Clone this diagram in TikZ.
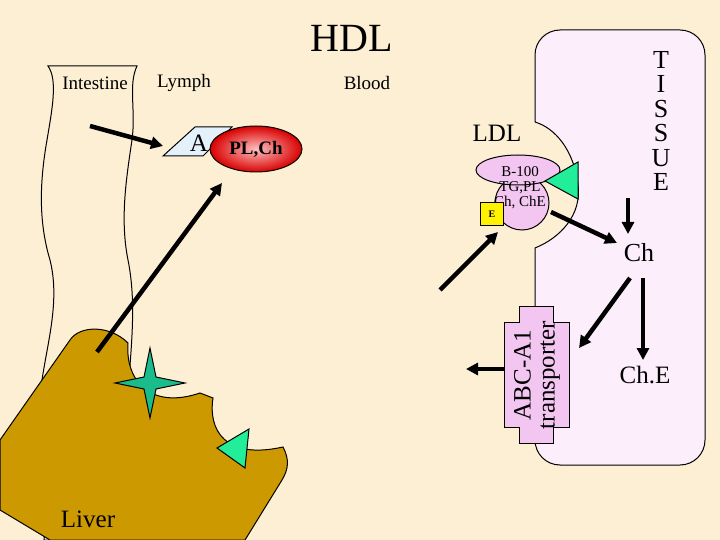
\documentclass[tikz,border=0pt]{standalone}
\usepackage{fontspec}
\setmainfont{Liberation Serif}
\usetikzlibrary{arrows.meta,shapes.geometric}
\definecolor{bg}{HTML}{FCEFD4}
\definecolor{tis}{HTML}{FDEEFC}
\definecolor{pinkish}{HTML}{F3C6F2}
\definecolor{liver}{HTML}{CC9900}
\definecolor{teal}{HTML}{1ABC8C}
\definecolor{lgreen}{HTML}{22EE99}
\definecolor{pale}{HTML}{E4F1FB}
\begin{document}
\begin{tikzpicture}[x=1pt,y=-1pt,line width=1pt,
  arr/.style={line width=4.5pt,-{Triangle[length=12pt,width=12pt]}},
  lbl/.style={font=\fontsize{19}{21}\selectfont,inner sep=0pt}]
\fill[bg] (0,0) rectangle (720,540);
\useasboundingbox (0,0) rectangle (720,540);
% tissue
\draw[fill=tis] (535,122) [rounded corners=25pt] -- (535,30) -- (705,30) -- (705,465) -- (535,465) [sharp corners] -- (535,248)
 .. controls (560,238) and (582,215) .. (578,185) .. controls (574,150) and (555,128) .. (535,122);
% intestine
\draw[fill=bg] (48,66) .. controls (58,80) and (52,110) .. (47,140) .. controls (40,180) and (38,220) .. (50,260) .. controls (60,300) and (48,340) .. (42,380) .. controls (36,430) and (50,480) .. (44,540)
 -- (130,540) .. controls (136,480) and (124,440) .. (128,390) .. controls (132,340) and (136,300) .. (128,260) .. controls (120,220) and (126,180) .. (132,140) .. controls (136,110) and (128,85) .. (137,66) -- cycle;
% liver
\draw[fill=liver] (0,440) -- (70,340) .. controls (80,325) and (110,325) .. (128,343)
 .. controls (125,380) and (150,410) .. (200,393) -- (213,398) .. controls (208,430) and (225,460) .. (283,447)
 .. controls (290,460) and (288,470) .. (282,480) -- (245,540) -- (50,540) -- (0,510) -- cycle;
\draw[fill=teal] (150,348) -- (156,377) -- (185,383) -- (156,389) -- (150,418) -- (144,389) -- (115,383) -- (144,377) -- cycle;
\draw[fill=lgreen] (217,448) -- (249,429) -- (245,468) -- cycle;
\node[font=\fontsize{25}{27}\selectfont,inner sep=0pt] (liv) at (88,519) {Liver};
% titles
\node[font=\fontsize{40}{42}\selectfont] (hdl) at (352,38) {HDL};
\node[lbl] (int) at (95,83) {Intestine};
\node[lbl] (lym) at (184,83) {Lymph};
\node[lbl] (blo) at (367,83) {Blood};
\node[font=\fontsize{25}{27}\selectfont] (ldl) at (497,133) {LDL};
% HDL particle
\draw[fill=pale] (163,156) -- (195,127) -- (232,127) -- (203,156) -- cycle;
\node[font=\fontsize{25}{27}\selectfont] (A) at (199,143) {A};
\node[ellipse,draw,inner color=red!25,outer color=red!85!black,minimum width=92pt,minimum height=46pt,font=\bfseries\fontsize{19}{21}\selectfont,inner sep=0pt] (plch) at (256,149) {PL,Ch};
% LDL particle
\draw[fill=pinkish] (522,203) circle (27);
\node[ellipse,draw,fill=pinkish,minimum width=84pt,minimum height=30pt,inner sep=0pt] (b100) at (518,170) {};
\node[font=\fontsize{15}{15}\selectfont,align=center,inner sep=0pt] (ldltx) at (520,188) {B-100\\TG,PL\\Ch, ChE};
\node[draw,fill=yellow,minimum size=23pt,inner sep=0pt,font=\bfseries\fontsize{10}{10}\selectfont] (E) at (492,214) {E};
\draw[fill=lgreen] (545,181) -- (578,162) -- (578,199) -- cycle;
% TISSUE
\node[font=\fontsize{26}{24.5}\selectfont,align=center,inner sep=0pt] (tissue) at (661,121) {T\\I\\S\\S\\U\\E};
\node[font=\fontsize{26}{28}\selectfont] (ch) at (639,253) {Ch};
\node[font=\fontsize{25}{28}\selectfont] (che) at (645,375) {Ch.E};
% transporter
\draw[fill=pinkish] (519,306) -- (553,306) -- (553,322) -- (569,322) -- (569,427) -- (553,427) -- (553,443) -- (519,443) -- (519,427) -- (504,427) -- (504,322) -- (519,322) -- cycle;
\node[rotate=90,align=center,font=\fontsize{25}{24}\selectfont,inner sep=0pt] (abc) at (537,375) {ABC-A1\\transporter};
% arrows
\coordinate (a1) at (90,126);
\draw[arr] (a1) -- (163,146);
\coordinate (a2) at (97,352);
\draw[arr] (a2) -- (222,183);
\coordinate (a3) at (440,290);
\draw[arr] (a3) -- (498,232);
\coordinate (a4) at (551,212);
\draw[arr] (a4) -- (617,243);
\draw[arr] (628,198) -- (628,234);
\draw[arr] (630,278) -- (579,348);
\draw[arr] (643,278) -- (643,360);
\coordinate (a5) at (466,369);
\draw[arr] (504,369) -- (a5);
\end{tikzpicture}
\end{document}
